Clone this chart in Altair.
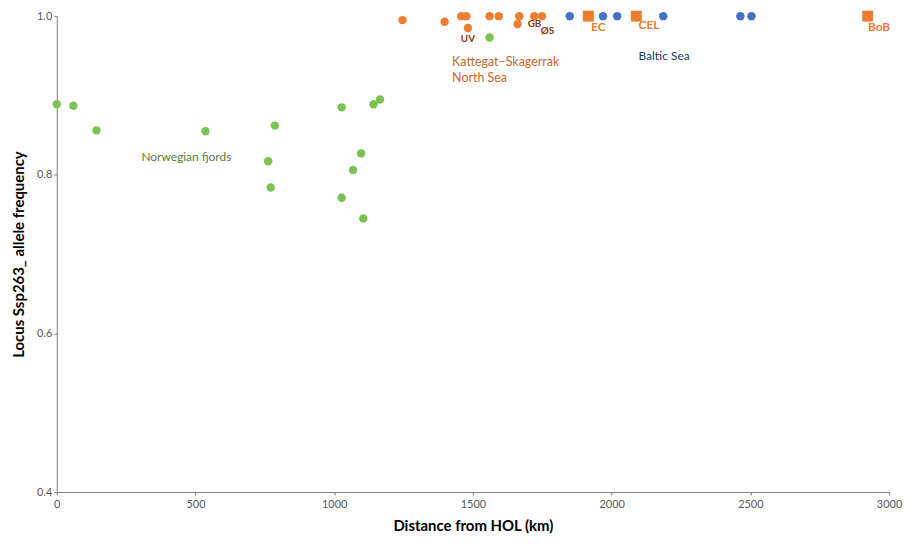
import altair as alt
import pandas as pd

# Data
green_x = [0, 60, 143, 536, 786, 762, 771, 1027, 1142, 1165, 1097, 1068, 1027, 1105, 1560]
green_y = [0.889, 0.887, 0.856, 0.855, 0.862, 0.817, 0.784, 0.885, 0.889, 0.895, 0.827, 0.806, 0.771, 0.745, 0.973]

orange_x = [1246, 1398, 1458, 1476, 1482, 1560, 1593, 1667, 1661, 1721, 1749]
orange_y = [0.995, 0.993, 1.0, 1.0, 0.985, 1.0, 1.0, 1.0, 0.990, 1.0, 1.0]

square_x = [1916, 2089, 2923]
square_y = [1.0, 1.0, 1.0]

blue_x = [1849, 1969, 2020, 2186, 2464, 2504]
blue_y = [1.0, 1.0, 1.0, 1.0, 1.0, 1.0]

x_ticks = [0, 500, 1000, 1500, 2000, 2500, 3000]
y_ticks = [0.4, 0.6, 0.8, 1.0]

# Annotations (text, x, y, colour, size, weight, align)
ann_text = ["UV", "GB", "ØS", "EC", "CEL", "BoB", "Baltic Sea",
            "Kattegat–Skagerrak", "North Sea", "Norwegian fjords"]
ann_x = [1482, 1722, 1769, 1952, 2135, 2964, 2189, 1425, 1425, 305]
ann_y = [0.971, 0.990, 0.981, 0.986, 0.989, 0.986, 0.950, 0.942, 0.922, 0.822]
ann_color = ["#843C0C", "#843C0C", "#843C0C", "#ED7D31", "#ED7D31", "#ED7D31",
             "#203864", "#C9692A", "#C9692A", "#548235"]
ann_size = [10, 10, 10, 12, 12, 12, 12, 12.5, 12.5, 12]
ann_weight = ["bold", "bold", "bold", "bold", "bold", "bold", "normal",
              "normal", "normal", "normal"]
ann_align = ["center", "center", "center", "center", "center", "center",
             "center", "left", "left", "left"]

rows = []
for x, y in zip(green_x, green_y):
    rows.append({"x": x, "y": y, "grp": "green"})
for x, y in zip(orange_x, orange_y):
    rows.append({"x": x, "y": y, "grp": "orange"})
for x, y in zip(blue_x, blue_y):
    rows.append({"x": x, "y": y, "grp": "blue"})
pts = pd.DataFrame(rows)
sq = pd.DataFrame({"x": square_x, "y": square_y})
ann = pd.DataFrame({"t": ann_text, "x": ann_x, "y": ann_y, "c": ann_color,
                    "s": ann_size, "w": ann_weight, "a": ann_align})

xs = alt.Scale(domain=[0, 3000], nice=False, zero=False)
ys = alt.Scale(domain=[0.4, 1.0], nice=False, zero=False)

xaxis = alt.Axis(values=x_ticks, grid=False, title="Distance from HOL (km)",
                 format="d", labelFlush=False, tickSize=3, labelPadding=4,
                 titlePadding=9)
yaxis = alt.Axis(values=y_ticks, grid=False, title="Locus Ssp263_ allele frequency",
                 format=".1f", tickSize=3, labelPadding=2, titlePadding=10)

circles = alt.Chart(pts).mark_circle(size=72, opacity=1).encode(
    x=alt.X("x:Q", scale=xs, axis=xaxis),
    y=alt.Y("y:Q", scale=ys, axis=yaxis),
    color=alt.Color("grp:N", scale=alt.Scale(domain=["green", "orange", "blue"],
                                             range=["#7DC352", "#ED7D31", "#4472C4"]),
                    legend=None),
)

squares = alt.Chart(sq).mark_square(size=120, opacity=1, color="#ED7D31").encode(
    x=alt.X("x:Q", scale=xs), y=alt.Y("y:Q", scale=ys)
)

layers = [circles, squares]
for _, r in ann.iterrows():
    d = pd.DataFrame([{"t": r["t"], "x": r["x"], "y": r["y"]}])
    layers.append(
        alt.Chart(d).mark_text(color=r["c"], fontSize=float(r["s"]), fontWeight=r["w"],
                               align=r["a"], baseline="middle", font="Lato").encode(
            x=alt.X("x:Q", scale=xs), y=alt.Y("y:Q", scale=ys), text="t:N")
    )

chart = alt.layer(*layers).properties(
    width=836, height=478,
    autosize=alt.AutoSizeParams(type="none"),
    padding={"left": 49, "top": 7, "right": 14, "bottom": 46},
).configure_view(stroke=None).configure_axis(
    domainColor="#7F7F7F", tickColor="#7F7F7F", labelColor="#595959",
    labelFont="Lato", labelFontSize=11, titleFont="Lato", titleFontSize=15,
    titleColor="#000000", titleFontWeight="bold"
)

chart.save("out.html", embed_options={"renderer": "svg", "actions": False})
